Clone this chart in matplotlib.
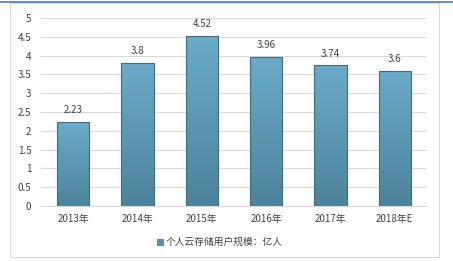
import numpy as np
import matplotlib.pyplot as plt
from matplotlib.patches import Rectangle

plt.rcParams['font.family'] = ['Noto Sans CJK SC', 'DejaVu Sans']

years = ['2013年', '2014年', '2015年', '2016年', '2017年', '2018年E']
users = [2.23, 3.8, 4.52, 3.96, 3.74, 3.6]
value_labels = ['2.23', '3.8', '4.52', '3.96', '3.74', '3.6']
series_name = '个人云存储用户规模：亿人'

fig = plt.figure(figsize=(4.53, 2.61), dpi=100)
W, H = 453, 261

# outer frame and top blue line
fig.add_artist(Rectangle((10 / W, 4 / H), 429 / W, 254 / H, transform=fig.transFigure,
                         fill=False, edgecolor='#d9d9d9', linewidth=0.8))
fig.add_artist(plt.Line2D([0, 1], [1 - 2 / H, 1 - 2 / H], transform=fig.transFigure,
                          color='#3c7fc0', linewidth=1.2))

ax = fig.add_axes([41 / W, 1 - 206 / H, 386 / W, 188 / H])
x = np.arange(len(years))
bars = ax.bar(x, users, width=0.5, color='none', edgecolor='#3f6b80', linewidth=0.8, zorder=3)

# vertical gradient inside each bar
grad = np.linspace(0, 1, 256).reshape(-1, 1)
top = np.array([0x6b, 0xab, 0xc9]) / 255
bot = np.array([0x4c, 0x83, 0x9a]) / 255
img = top + (bot - top) * grad[..., None]
for b in bars:
    x0, y0, w, h = b.get_x(), b.get_y(), b.get_width(), b.get_height()
    im = ax.imshow(img.reshape(256, 1, 3), extent=[x0, x0 + w, y0, y0 + h],
                   aspect='auto', origin='upper', zorder=2)
    im.set_clip_path(b)

for xi, v, s in zip(x, users, value_labels):
    ax.text(xi, v + 0.18, s, ha='center', va='bottom', fontsize=7, color='#404040')

ax.set_xlim(-0.5, len(years) - 0.5)
ax.set_ylim(0, 5)
ax.set_yticks(np.arange(0, 5.01, 0.5))
ax.set_yticklabels(['0', '0.5', '1', '1.5', '2', '2.5', '3', '3.5', '4', '4.5', '5'])
ax.set_xticks(x)
ax.set_xticklabels(years)
ax.tick_params(axis='x', length=0, labelsize=7, colors='#404040', pad=6)
ax.tick_params(axis='y', length=0, labelsize=7, colors='#404040', pad=7)
ax.grid(axis='y', color='#d9d9d9', linewidth=0.8, zorder=0)
for s in ['top', 'right', 'left']:
    ax.spines[s].set_visible(False)
ax.spines['bottom'].set_color('#d9d9d9')

fig.add_artist(Rectangle((157 / W, 1 - 245 / H), 6 / W, 6 / H, transform=fig.transFigure,
                         facecolor='#5b93ad', edgecolor='#3f6b80', linewidth=0.5))
fig.text(166 / W, 1 - 242 / H, series_name, fontsize=7, color='#404040', va='center')

fig.savefig('out.png', dpi=100)
